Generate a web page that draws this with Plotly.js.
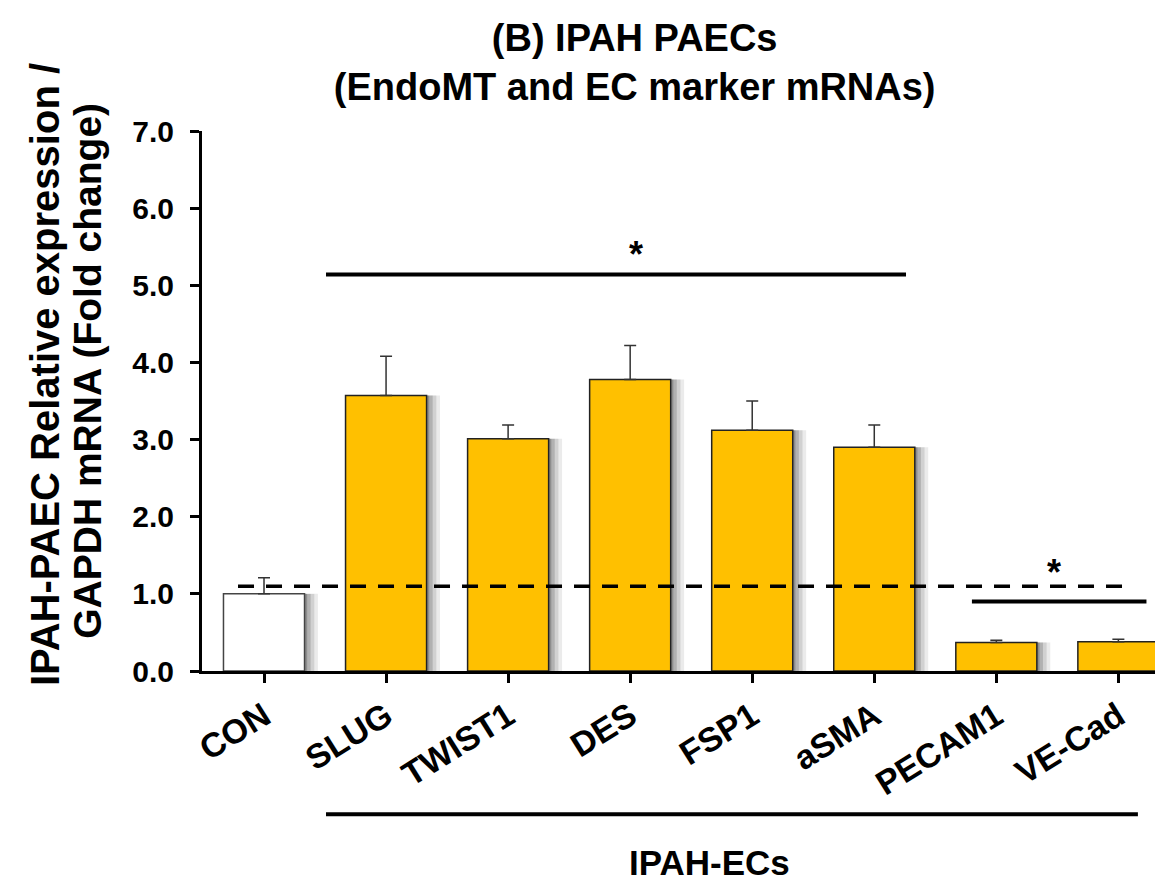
<!DOCTYPE html>
<html>
<head>
<meta charset="utf-8">
<script src="https://cdn.plot.ly/plotly-3.0.1.min.js"></script>
<style>
  html, body { margin: 0; padding: 0; background: #fff; }
  #chart { width: 1155px; height: 881px; }
</style>
</head>
<body>
<div id="chart"></div>
<script>
// Relative mRNA expression (fold change vs. control), mean and upper SEM
const categories = ['CON', 'SLUG', 'TWIST1', 'DES', 'FSP1', 'aSMA', 'PECAM1', 'VE-Cad'];
const foldChange = [1.00, 3.57, 3.01, 3.78, 3.12, 2.90, 0.37, 0.38];
const semUpper   = [0.21, 0.51, 0.18, 0.44, 0.38, 0.29, 0.03, 0.03];
const barColors  = ['#FFFFFF', '#FFC000', '#FFC000', '#FFC000', '#FFC000', '#FFC000', '#FFC000', '#FFC000'];
const outlineColors = ['#444444', '#222222', '#222222', '#222222', '#222222', '#222222', '#222222', '#222222'];

// Y-axis caption, one entry per line
const yTitleLines = ['IPAH-PAEC Relative expression /', 'GAPDH mRNA (Fold change)'];

// Reference level and significance brackets
const referenceLevel = 1.1;
const sigEndoMT = { from: 0.508, to: 5.26, level: 5.14, star: 3.05, starLevel: 5.40 };
const sigEC     = { from: 5.80, to: 7.23, level: 0.90, star: 6.47, starLevel: 1.28 };

const FONT = 'Arial, "Liberation Sans", sans-serif';
const BAR_W = 0.664;

// Soft drop shadow on the right side of every bar (layered translucent strips)
const shadowLayers = [
  { w: 0.110, a: 0.08 },
  { w: 0.080, a: 0.11 },
  { w: 0.050, a: 0.15 },
  { w: 0.022, a: 0.20 }
];
const traces = shadowLayers.map(s => ({
  type: 'bar',
  x: categories,
  y: foldChange,
  width: s.w,
  offset: BAR_W / 2,
  marker: { color: 'rgba(0,0,0,' + s.a + ')', line: { width: 0 } },
  hoverinfo: 'skip',
  showlegend: false
}));

traces.push({
  type: 'bar',
  x: categories,
  y: foldChange,
  width: BAR_W,
  marker: { color: barColors, line: { color: outlineColors, width: 1.5 } },
  error_y: {
    type: 'data',
    symmetric: false,
    array: semUpper,
    arrayminus: semUpper.map(() => 0),
    color: '#333333',
    thickness: 1.5,
    width: 6
  },
  showlegend: false
});

const shapes = [
  { type: 'line', xref: 'x', yref: 'y', x0: -0.213, x1: 7.03, y0: referenceLevel, y1: referenceLevel,
    line: { color: '#000', width: 3.5, dash: '16px,12px' }, layer: 'above' },
  { type: 'line', xref: 'x', yref: 'y', x0: sigEndoMT.from, x1: sigEndoMT.to, y0: sigEndoMT.level, y1: sigEndoMT.level,
    line: { color: '#000', width: 4 } },
  { type: 'line', xref: 'x', yref: 'y', x0: sigEC.from, x1: sigEC.to, y0: sigEC.level, y1: sigEC.level,
    line: { color: '#000', width: 4 } },
  // group bracket under the IPAH-EC categories
  { type: 'line', xref: 'x', yref: 'paper', x0: 0.508, x1: 7.16, y0: -0.2655, y1: -0.2655,
    line: { color: '#000', width: 4 } }
];

const boldFont = size => ({ family: FONT, size: size, color: '#000', weight: 'bold' });

const annotations = [
  { xref: 'x', yref: 'y', x: sigEndoMT.star, y: sigEndoMT.starLevel, text: '*', showarrow: false,
    font: boldFont(36) },
  { xref: 'x', yref: 'y', x: sigEC.star, y: sigEC.starLevel, text: '*', showarrow: false,
    font: boldFont(36) },
  { xref: 'x', yref: 'paper', x: 3.65, y: -0.355, text: 'IPAH-ECs', showarrow: false,
    yanchor: 'middle', font: boldFont(35) },
  // rotated y-axis caption
  { xref: 'paper', yref: 'paper', x: -0.1647, y: 0.548, text: yTitleLines[0], textangle: -90,
    xanchor: 'center', yanchor: 'middle', showarrow: false, font: boldFont(40) },
  { xref: 'paper', yref: 'paper', x: -0.1196, y: 0.556, text: yTitleLines[1], textangle: -90,
    xanchor: 'center', yanchor: 'middle', showarrow: false, font: boldFont(39) }
];

const layout = {
  width: 1155,
  height: 881,
  margin: { l: 202, r: 0, t: 131, b: 210 },
  paper_bgcolor: '#fff',
  plot_bgcolor: '#fff',
  barmode: 'overlay',
  title: {
    text: '(B) IPAH PAECs<br>(EndoMT and EC marker mRNAs)',
    x: 0.454, xref: 'paper', xanchor: 'center',
    y: 0.942, yref: 'container', yanchor: 'top',
    font: boldFont(38)
  },
  xaxis: {
    type: 'category',
    range: [-0.508, 7.30],
    showline: true, linecolor: '#000', linewidth: 3,
    ticks: 'outside', ticklen: 9, tickwidth: 3, tickcolor: '#000',
    tickangle: -32,
    tickfont: boldFont(34),
    showgrid: false, zeroline: false
  },
  yaxis: {
    range: [0, 7],
    dtick: 1, tick0: 0, tickformat: '.1f',
    showline: true, linecolor: '#000', linewidth: 3,
    ticks: 'outside', ticklen: 9, tickwidth: 3, tickcolor: '#000',
    ticklabelstandoff: 10,
    tickfont: boldFont(30),
    showgrid: false, zeroline: false
  },
  shapes: shapes,
  annotations: annotations,
  showlegend: false
};

Plotly.newPlot('chart', traces, layout, { staticPlot: true, displayModeBar: false });
</script>
</body>
</html>
